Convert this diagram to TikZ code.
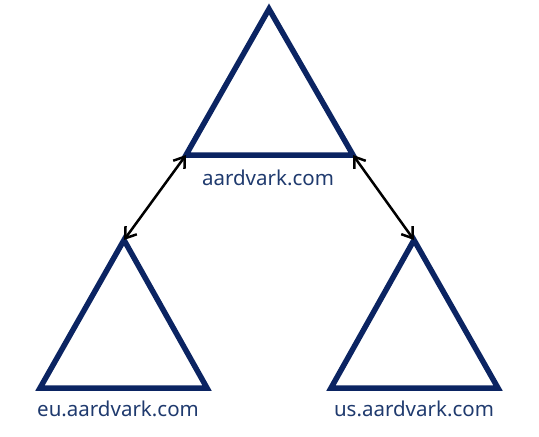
\documentclass[tikz,border=0pt]{standalone}
\usepackage{fontspec}
\setmainfont{Noto Sans}
\usetikzlibrary{arrows.meta}
\definecolor{navy}{HTML}{0B2462}
\definecolor{txt}{HTML}{1F3A6E}
\begin{document}
\begin{tikzpicture}[x=1pt,y=-1pt,
  tri/.style={draw=navy,line width=5.5pt,line join=miter},
  lbl/.style={text=txt,font=\fontsize{20.5}{24}\selectfont,inner sep=0pt},
  link/.style={black,line width=2.5pt,{Straight Barb[length=10pt,width=14pt]}-{Straight Barb[length=10pt,width=14pt]}}]
\useasboundingbox (0,0) rectangle (539,437);
\coordinate (tA) at (269,9);
\coordinate (tL) at (186,155);
\coordinate (tR) at (353,155);
\coordinate (lA) at (124,240);
\coordinate (lL) at (40,388);
\coordinate (lR) at (207,388);
\coordinate (rA) at (414,240);
\coordinate (rL) at (331,388);
\coordinate (rR) at (498,388);
\draw[tri] (tA) -- (tL) -- (tR) -- cycle;
\draw[tri] (lA) -- (lL) -- (lR) -- cycle;
\draw[tri] (rA) -- (rL) -- (rR) -- cycle;
\node[lbl] (top) at (268,178) {aardvark.com};
\node[lbl] (eu) at (118,409) {eu.aardvark.com};
\node[lbl] (us) at (414,409) {us.aardvark.com};
\draw[link] (tL) -- (lA);
\draw[link] (tR) -- (rA);
\end{tikzpicture}
\end{document}
